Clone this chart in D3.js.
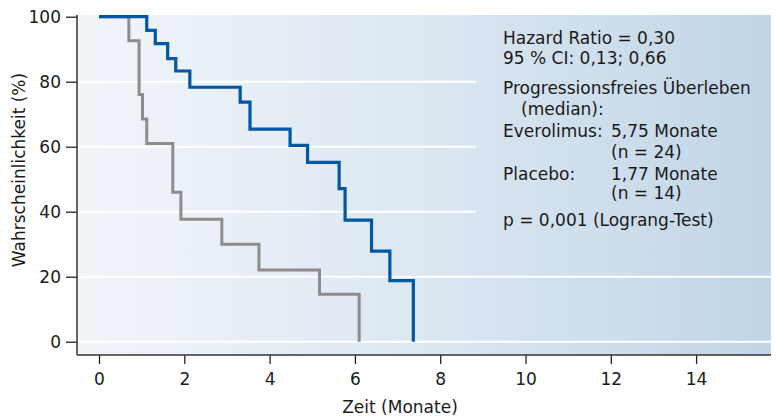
<!DOCTYPE html>
<html>
<head>
<meta charset="utf-8">
<script src="https://cdn.jsdelivr.net/npm/d3@7"></script>
<style>
  body { margin: 0; background: #fff; }
  svg text { font-family: "DejaVu Sans", sans-serif; fill: #1a1a1a; }
</style>
</head>
<body>
<div id="chart"></div>
<script>
// Everolimus (blue) step curve: time in months, survival in %
var everoTime = [0, 1.12, 1.32, 1.61, 1.80, 2.13, 3.31, 3.54, 4.48, 4.89, 5.63, 5.77, 6.39, 6.82, 7.37];
var everoSurv = [100, 95.8, 91.7, 87.1, 83.3, 78.3, 73.7, 65.4, 60.4, 55.2, 47.1, 37.4, 27.9, 18.8, 0];

// Placebo (grey) step curve
var placTime = [0, 0.70, 0.94, 1.02, 1.12, 1.73, 1.92, 2.88, 3.75, 5.17, 6.10];
var placSurv = [100, 92.6, 76.1, 68.5, 61.0, 46.0, 37.7, 30.0, 22.1, 14.6, 0];

var xTicks = [0, 2, 4, 6, 8, 10, 12, 14];
var yTicks = [0, 20, 40, 60, 80, 100];
var shortGrid = [40, 60, 80];   // gridlines stopping before the text box
var longGrid = [0, 20];

var infoLines = [
  {t: "Hazard Ratio = 0,30", y: 44},
  {t: "95 % CI: 0,13; 0,66", y: 64},
  {t: "Progressionsfreies Überleben", y: 94},
  {t: "(median):", y: 115, indent: true},
  {t: "Everolimus:", y: 137, col2: "5,75 Monate"},
  {t: "", y: 158, col2: "(n = 24)"},
  {t: "Placebo:", y: 180, col2: "1,77 Monate"},
  {t: "", y: 199, col2: "(n = 14)"},
  {t: "p = 0,001 (Lograng-Test)", y: 226}
];

var width = 776, height = 416;
var plot = {left: 77, top: 15, right: 771, bottom: 355};

var svg = d3.select("#chart").append("svg")
    .attr("width", width)
    .attr("height", height);

var defs = svg.append("defs");
var grad = defs.append("linearGradient")
    .attr("id", "bg")
    .attr("x1", "0%").attr("x2", "100%").attr("y1", "0%").attr("y2", "0%");
grad.append("stop").attr("offset", "0%").attr("stop-color", "#f1f5fa");
grad.append("stop").attr("offset", "50%").attr("stop-color", "#dce7f1");
grad.append("stop").attr("offset", "100%").attr("stop-color", "#c1d5e7");

var x = d3.scaleLinear().domain([0, 2]).range([99, 184.3]);
var y = d3.scaleLinear().domain([0, 100]).range([341.7, 16.7]);

// background
svg.append("rect")
    .attr("x", plot.left).attr("y", plot.top)
    .attr("width", plot.right - plot.left).attr("height", plot.bottom - plot.top)
    .attr("fill", "url(#bg)");

// gridlines
svg.selectAll(".gs").data(shortGrid).enter().append("line")
    .attr("x1", plot.left).attr("x2", 476)
    .attr("y1", d => y(d)).attr("y2", d => y(d))
    .attr("stroke", "#fff").attr("stroke-width", 2);
svg.selectAll(".gl").data(longGrid).enter().append("line")
    .attr("x1", plot.left).attr("x2", plot.right)
    .attr("y1", d => y(d)).attr("y2", d => y(d))
    .attr("stroke", "#fff").attr("stroke-width", 2);

// step curves
var line = d3.line()
    .x(d => x(d[0]))
    .y(d => y(d[1]))
    .curve(d3.curveStepAfter);

svg.append("path")
    .datum(d3.zip(placTime, placSurv))
    .attr("d", line)
    .attr("fill", "none")
    .attr("stroke", "#8c8c8c")
    .attr("stroke-width", 3);

svg.append("path")
    .datum(d3.zip(everoTime, everoSurv))
    .attr("d", line)
    .attr("fill", "none")
    .attr("stroke", "#0057a6")
    .attr("stroke-width", 3.2);

// axes
var yAxis = svg.append("g")
    .attr("transform", "translate(" + plot.left + ",0)")
    .call(d3.axisLeft(y).tickValues(yTicks).tickSize(11).tickPadding(5));
var xAxis = svg.append("g")
    .attr("transform", "translate(0," + plot.bottom + ")")
    .call(d3.axisBottom(x).tickValues(xTicks).tickFormat(d3.format("d")).tickSize(9).tickPadding(9));

[yAxis, xAxis].forEach(function(a) {
  a.select(".domain").remove();
  a.selectAll(".tick line").attr("stroke", "#222").attr("stroke-width", 1.3);
  a.selectAll(".tick text")
      .attr("font-size", 17)
      .style("font-family", "'DejaVu Sans', sans-serif")
      .style("fill", "#1a1a1a");
});

svg.append("line")
    .attr("x1", plot.left).attr("x2", plot.left)
    .attr("y1", plot.top).attr("y2", plot.bottom)
    .attr("stroke", "#333").attr("stroke-width", 1.5);
svg.append("line")
    .attr("x1", plot.left).attr("x2", plot.right)
    .attr("y1", plot.bottom).attr("y2", plot.bottom)
    .attr("stroke", "#333").attr("stroke-width", 1.5);

// axis titles
svg.append("text")
    .attr("transform", "translate(25,170) rotate(-90)")
    .attr("text-anchor", "middle")
    .attr("font-size", 17)
    .text("Wahrscheinlichkeit (%)");
svg.append("text")
    .attr("x", 400).attr("y", 413)
    .attr("text-anchor", "middle")
    .attr("font-size", 17)
    .text("Zeit (Monate)");

// info text
var info = svg.append("g").attr("font-size", 17);
infoLines.forEach(function(l) {
  info.append("text")
      .attr("x", l.indent ? 521 : 503)
      .attr("y", l.y)
      .text(l.t);
  if (l.col2) {
    info.append("text").attr("x", 611).attr("y", l.y).text(l.col2);
  }
});
</script>
</body>
</html>
